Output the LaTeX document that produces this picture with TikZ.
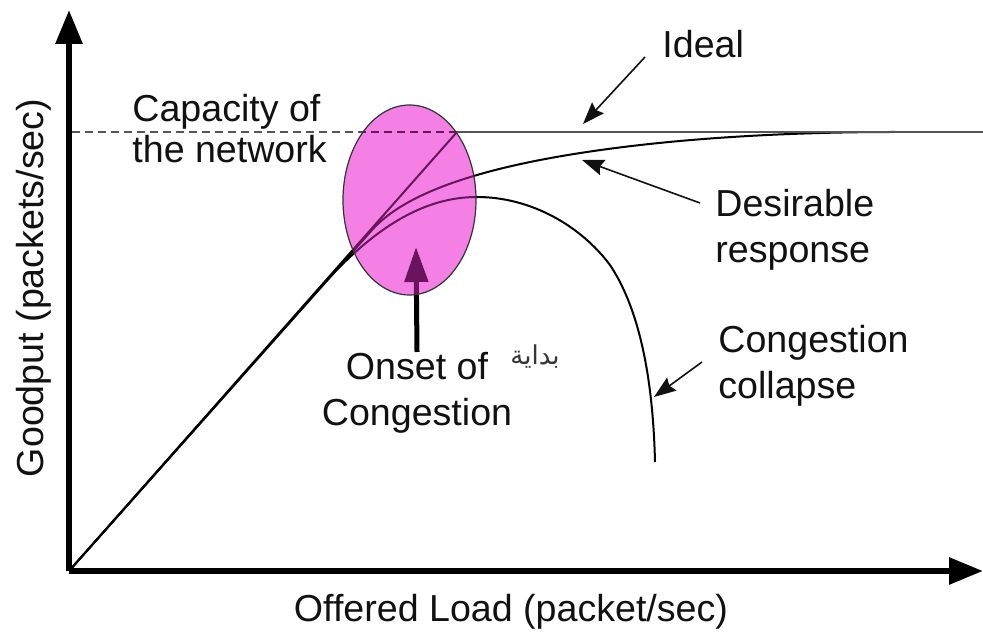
\documentclass[tikz,border=0pt]{standalone}
\usepackage{fontspec}
\setmainfont{Liberation Sans}
\newfontfamily\arabicfont[Script=Arabic]{DejaVu Sans}
\TeXXeTstate=1
\usetikzlibrary{arrows.meta}
\definecolor{ink}{HTML}{111111}
\definecolor{blob}{RGB}{244,128,230}
\definecolor{blobline}{RGB}{105,20,92}
\definecolor{capline}{HTML}{555555}

% curves of the goodput plot, drawn in a given colour
\newcommand{\gpCurves}[1]{%
  \draw[curve,#1] (origin) -- (knee);
  \draw[curve,#1] (origin) -- (desStart)
     .. controls (405,193) and (480,168) .. (desMid)
     .. controls (700,135) and (820,132) .. (desEnd);
  \draw[curve,#1] (origin) -- (colStart)
     .. controls (375,226) and (425,197) .. (colPeak)
     .. controls (530,197) and (580,225) .. (colMid)
     .. controls (640,310) and (653,380) .. (colEnd);
  \draw[capstyle,#1] (knee) -- (capEnd);
  \draw[dashstyle,#1] (capStart) -- (knee);
}

\begin{document}
\begin{tikzpicture}[x=0.5pt,y=-0.5pt,
  txt/.style={font=\fontsize{18.8}{23}\selectfont, text=ink, inner sep=0pt},
  axis/.style={line width=3pt, draw=black, -{Triangle[length=17pt,width=13pt]}},
  pointer/.style={line width=0.8pt, draw=ink, -{Stealth[length=11pt,width=8pt,inset=1.5pt]}},
  curve/.style={line width=1pt, draw=black},
  capstyle/.style={line width=1.3pt, draw=capline},
  dashstyle/.style={line width=1pt, draw=capline, dash pattern=on 4pt off 2.5pt},
  onsetarrow/.style={line width=2.5pt, -{Triangle[length=17.5pt,width=11.5pt]}}
]
\useasboundingbox (0,0) rectangle (983,635);

% key points
\coordinate (origin) at (69,571);
\coordinate (yTop) at (69,10);
\coordinate (xEnd) at (983,571);
\coordinate (knee) at (457,132);
\coordinate (capStart) at (72,132);
\coordinate (capEnd) at (983,132);
\coordinate (desStart) at (372,230);
\coordinate (desMid) at (587,152);
\coordinate (desEnd) at (895,132);
\coordinate (colStart) at (320,288);
\coordinate (colPeak) at (477,197);
\coordinate (colMid) at (610,265);
\coordinate (colEnd) at (655,462);
\coordinate (blobC) at (409.5,200);
\coordinate (onsetTip) at (416,247);

% curves
\gpCurves{}

% axes
\draw[axis] (origin) -- (yTop);
\draw[axis] (origin) -- (xEnd);

% labels
\node[txt, anchor=north west] (ideal) at (662,30) {Ideal};
\node[txt, anchor=north west, align=left, font=\fontsize{18.8}{20.5}\selectfont] (capacity) at (132,94) {Capacity of\\the network};
\node[txt, anchor=north west, align=left] (desirable) at (715,189) {Desirable\\response};
\node[txt, anchor=north west, align=left] (collapse) at (718,325) {Congestion\\collapse};
\node[txt, anchor=north, align=center] (onset) at (417,352) {Onset of\\Congestion};
\node[txt, anchor=base] (xlabel) at (511,621) {Offered Load (packet/sec)};
\node[txt, anchor=base, rotate=90] (ylabel) at (43,288) {Goodput (packets/sec)};
\node[inner sep=0pt, text=ink!85, font=\arabicfont\fontsize{13}{16}\selectfont] (arabic) at (535,357) {\beginR بداية\endR};

% pointers
\coordinate (idealTail) at (645,57);
\coordinate (idealTip) at (583,124);
\coordinate (desTail) at (700,203);
\coordinate (desTip) at (582,160);
\coordinate (colTail) at (702,362);
\coordinate (colTip) at (654,397);
\draw[pointer] (idealTail) -- (idealTip);
\draw[pointer] (desTail) -- (desTip);
\draw[pointer] (colTail) -- (colTip);
\draw[onsetarrow, draw=black] (onset.north) -- (onsetTip);

% highlighted region of the onset of congestion
\begin{scope}
  \clip (blobC) ellipse [x radius=66.5, y radius=95];
  \fill[blob] (blobC) ellipse [x radius=66.5, y radius=95];
  \gpCurves{draw=blobline}
  \draw[onsetarrow, draw=blobline, fill=blobline] (onset.north) -- (onsetTip);
\end{scope}
\draw[line width=0.6pt, draw=black!80] (blobC) ellipse [x radius=66.5, y radius=95];
\end{tikzpicture}
\end{document}
